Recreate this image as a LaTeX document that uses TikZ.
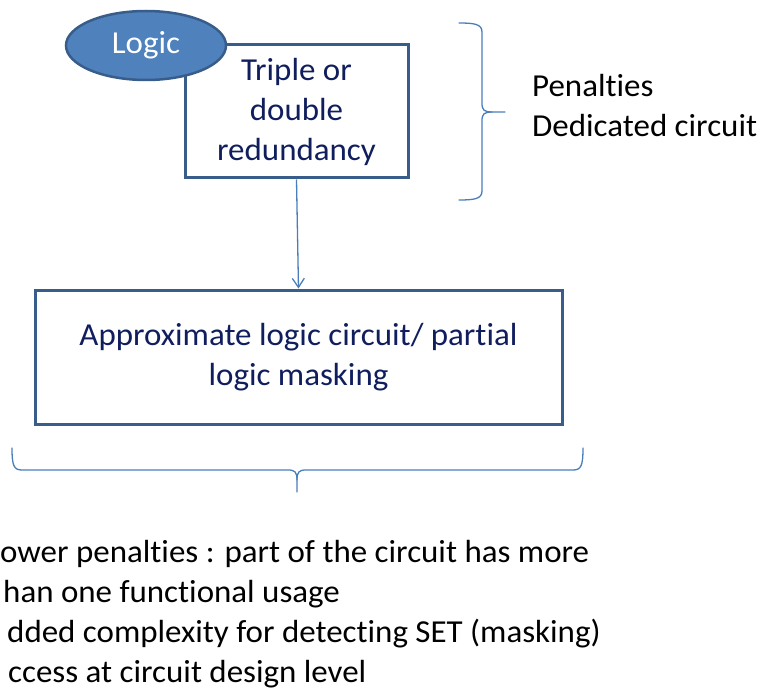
\documentclass[tikz,border=0pt]{standalone}
\usepackage{fontspec}
\setmainfont{Carlito}[FakeStretch=1.03, Ligatures=NoCommon]
\usetikzlibrary{arrows.meta,shapes.geometric}
\definecolor{frameblue}{RGB}{56,93,138}
\definecolor{fillblue}{RGB}{79,129,189}
\definecolor{linkblue}{RGB}{74,126,187}
\definecolor{navytext}{RGB}{16,30,94}
\begin{document}
\begin{tikzpicture}[x=1pt,y=-1pt,
  every node/.style={font=\fontsize{32}{40}\selectfont, inner sep=0pt},
  flowbox/.style={draw=frameblue, line width=3pt, fill=white, text=navytext, align=center},
  logicoval/.style={ellipse, draw=frameblue, line width=2.5pt, fill=fillblue, text=white,
                    minimum width=160pt, minimum height=69pt},
  link/.style={draw=linkblue, line width=1.3pt},
  bracepath/.style={draw=linkblue, line width=1.3pt, line cap=round, line join=round},
  notetext/.style={text=black, align=left}]
\useasboundingbox (0,0) rectangle (764,690);

% redundancy block with its label oval on top
\node[flowbox, minimum width=223pt, minimum height=133pt] (redund) at (296.5,111.5)
  {Triple or\\double\\redundancy};
\node[logicoval] (logic) at (146,45.5) {Logic};

% approximate logic block
\node[flowbox, minimum width=527pt, minimum height=134pt] (approx) at (298.5,357)
  {Approximate logic circuit/ partial\\logic masking};

\draw[link, -{Straight Barb[length=9pt,width=12pt,line width=1.3pt]}] (redund.south) -- (approx.north);

% right brace grouping the redundancy block
\draw[bracepath] (459,23) .. controls (474,23) and (482,24) .. (482,32) -- (482,103)
  .. controls (482,110) and (484,112) .. (492,112) -- (505,112);
\draw[bracepath] (492,112) .. controls (484,112) and (482,114) .. (482,121) -- (482,191)
  .. controls (482,199) and (474,200) .. (459,200);
% multi-line nodes sit on the baseline of their last line
\node[notetext, anchor=base west] (costs) at (532,137) {Penalties\\Dedicated circuit};

% bottom brace under the approximate logic block
\draw[bracepath] (12,448) .. controls (12,466) and (14,470) .. (22,470) -- (288,470)
  .. controls (295,470) and (297,472) .. (297,480) -- (297,492);
\draw[bracepath] (297,480) .. controls (297,472) and (299,470) .. (306,470) -- (573,470)
  .. controls (581,470) and (583,466) .. (583,448);
\node[notetext, anchor=base west] (gains) at (0,682)
  {ower penalties : part of the circuit has more\\
   \hspace*{3pt}han one functional usage\\
   \hspace*{7pt}dded complexity for detecting SET (masking)\\
   \hspace*{8pt}ccess at circuit design level};
\end{tikzpicture}
\end{document}
